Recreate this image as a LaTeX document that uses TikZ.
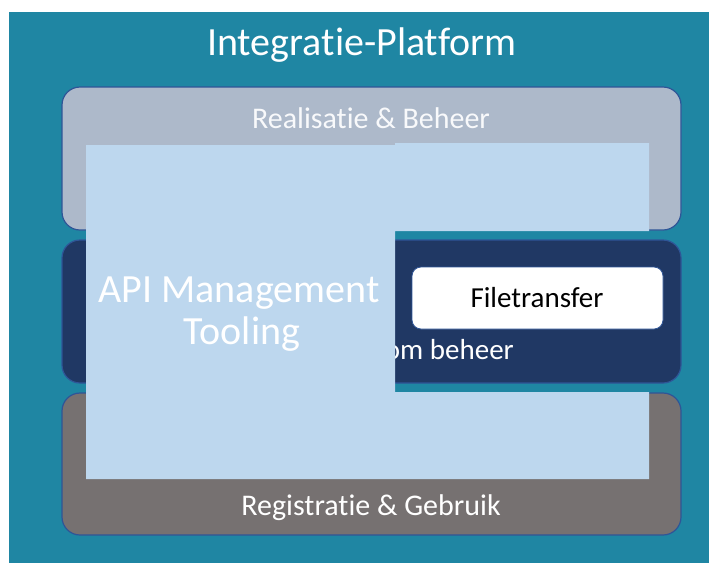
\documentclass[tikz,border=0pt]{standalone}
\usepackage{fontspec}
\setmainfont[Ligatures=NoCommon]{Carlito}
\definecolor{platteal}{RGB}{31,134,163}
\definecolor{realgrey}{RGB}{173,185,202}
\definecolor{navybox}{RGB}{32,56,100}
\definecolor{usegrey}{RGB}{118,113,113}
\definecolor{apiblue}{RGB}{189,215,238}
\definecolor{edgeblue}{RGB}{47,85,151}
\tikzset{
  layerbox/.style={draw=edgeblue, line width=1.2pt, rounded corners=18pt},
  bigtext/.style={text=white, font=\fontsize{40}{44}\selectfont, inner sep=0pt},
  midtext/.style={text=white, font=\fontsize{30}{34}\selectfont, inner sep=0pt},
}
\begin{document}
\begin{tikzpicture}[x=1pt, y=-1pt]
  \useasboundingbox (0,0) rectangle (709,563);
  % platform background
  \fill[platteal] (9,12) rectangle (709,563);
  \node[bigtext, anchor=base] (title) at (362,55) {Integratie-Platform};

  % three horizontal layers
  \path[layerbox, fill=realgrey] (62,87) rectangle (681,230);
  \path[layerbox, fill=navybox] (62,240) rectangle (681,383);
  \path[layerbox, fill=usegrey] (62,393) rectangle (681,535);
  \node[midtext, text=white!92!realgrey, anchor=base] (real) at (371,128) {Realisatie \& Beheer};
  \node[midtext, font=\fontsize{29}{33}\selectfont, anchor=base east] (beheer) at (514,359) {om beheer};
  \node[midtext, anchor=base] (reg) at (371,515) {Registratie \& Gebruik};

  % API management tooling overlay
  \fill[apiblue] (86,145) -- (395,145) -- (395,143) -- (649,143) -- (649,231)
    -- (395,231) -- (395,392) -- (649,392) -- (649,479) -- (86,479) -- cycle;
  \node[bigtext, anchor=base] (api1) at (239,302) {API Management};
  \node[bigtext, anchor=base] (api2) at (242,344) {Tooling};

  % file transfer component
  \path[draw=edgeblue, line width=0.8pt, fill=white, rounded corners=9pt]
    (412,267) rectangle (663,329);
  \node[anchor=base, font=\fontsize{29}{33}\selectfont, inner sep=0pt] (ft) at (537,307) {Filetransfer};
\end{tikzpicture}
\end{document}
